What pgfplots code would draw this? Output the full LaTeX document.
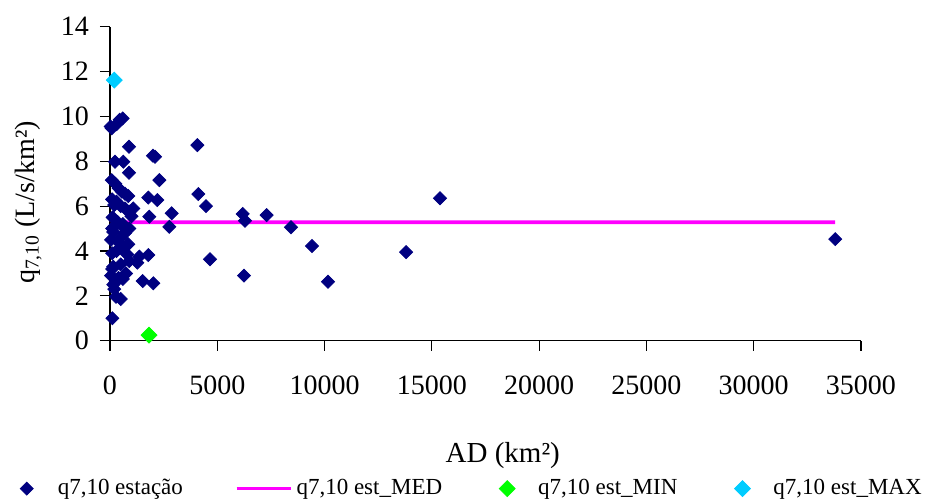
\documentclass[border=0pt]{standalone}
\usepackage{fontspec}
\setmainfont{Liberation Serif}
\usepackage{pgfplots}
\pgfplotsset{compat=1.18}
\usetikzlibrary{calc}
\definecolor{navyq}{HTML}{000080}
\definecolor{magq}{HTML}{FF00FF}
\definecolor{greenq}{HTML}{00FF00}
\definecolor{cyanq}{HTML}{00CCFF}
\pgfplotsset{diamleg/.style={legend image code/.code={%
  \path[draw=none] (0pt,0pt) -- (20pt,0pt);
  \draw[mark repeat=2, mark phase=2] plot coordinates {(0pt,0pt) (6.5pt,0pt) (13pt,0pt)};}}}

\begin{document}
\begin{tikzpicture}
\begin{axis}[
  scale only axis,
  width=375.5pt, height=157pt,
  xmin=0, xmax=35000, ymin=0, ymax=14,
  xtick={0,5000,...,35000}, ytick={0,2,...,14},
  scaled x ticks=false,
  axis x line*=bottom, axis y line*=left,
  axis line style={-, black, line width=0.6pt},
  tick align=outside, major tick length=5pt,
  tick style={black, line width=0.6pt},
  /pgf/number format/1000 sep={},
  /pgf/number format/assume math mode=true,
  tick label style={font=\fontsize{14}{16}\selectfont},
  xticklabel shift=9pt, yticklabel shift=2pt,
  xlabel={AD (km²)},
  xlabel style={font=\fontsize{14.5}{17}\selectfont, at={(axis description cs:0.523,-0.366)}, anchor=center},
  ylabel={q\textsubscript{7,10} (L/s/km²)},
  ylabel style={font=\fontsize{14}{16}\selectfont, at={(axis description cs:-0.109,0.44)}, anchor=center},
  legend columns=4,
  legend style={draw=none, fill=none, font=\fontsize{11.5}{13}\selectfont,
    at={(axis description cs:0.479,-0.471)}, anchor=center,
    /tikz/every even column/.append style={column sep=24pt}},
  clip=false,
]
\addplot[only marks, mark=square*, mark size=2.3pt, color=navyq, diamleg,
  mark options={rotate=45, draw=navyq, fill=navyq}] coordinates {
(590,9.91) (450,9.85) (310,9.65) (80,9.47) (30,9.55)
(885,8.65) (4070,8.72) (2100,8.2) (2000,8.25)
(233,7.98) (620,7.98) (885,7.49) (2300,7.16) (80,7.16)
(250,7.0) (400,6.8) (550,6.65) (700,6.55) (850,6.45)
(4117,6.54) (4474,6.0) (1785,6.38) (2205,6.27) (1086,5.9) (2875,5.68) (1830,5.53)
(6184,5.65) (6290,5.35) (7300,5.6) (2765,5.08) (8435,5.06) (9414,4.22) (4660,3.63)
(1366,3.75) (1785,3.82) (1272,3.48) (6245,2.90) (10160,2.63) (1524,2.66) (2020,2.56)
(110,1.0) (280,1.96) (500,1.86)
(13800,3.95) (15380,6.35) (33800,4.53)
(100,6.3) (300,6.2) (200,6.05) (500,6.0) (700,5.9) (900,5.75) (1000,5.55)
(120,5.5) (350,5.3) (600,5.2) (200,5.1) (100,5.0)
(600,5.08) (150,4.85) (500,4.6) (850,4.3) (600,4.15) (300,4.0) (100,3.9)
(50,4.5) (400,4.4) (700,4.8) (900,5.0)
(500,3.4) (750,3.0) (100,3.2) (400,2.8) (250,2.6) (600,2.75) (50,2.9)
(150,3.3) (900,3.55) (800,3.85) (200,2.3) (150,2.5)
};
\addlegendentry{q7,10 estação}
\addplot[magq, line width=1.8pt, no marks,
  legend image code/.code={\draw[magq, line width=1.8pt] (0cm,0cm) -- (27pt,0cm);}]
  coordinates {(30,5.38) (350,5.2) (550,5.28) (33800,5.28)};
\addlegendentry{q7,10 est\_MED}
\addplot[only marks, mark=square*, mark size=2.8pt, color=greenq, diamleg,
  mark options={rotate=45, draw=greenq, fill=greenq}] coordinates {(1820,0.25)};
\addlegendentry{q7,10 est\_MIN}
\addplot[only marks, mark=square*, mark size=2.8pt, color=cyanq, diamleg,
  mark options={rotate=45, draw=cyanq, fill=cyanq}] coordinates {(200,11.62)};
\addlegendentry{q7,10 est\_MAX}
\coordinate (O) at (rel axis cs:0,0);
\end{axis}
\pgfresetboundingbox
\path ($(O)+(-55pt,-79.65pt)$) rectangle ($(O)+(409pt,170.35pt)$);
\end{tikzpicture}
\end{document}
